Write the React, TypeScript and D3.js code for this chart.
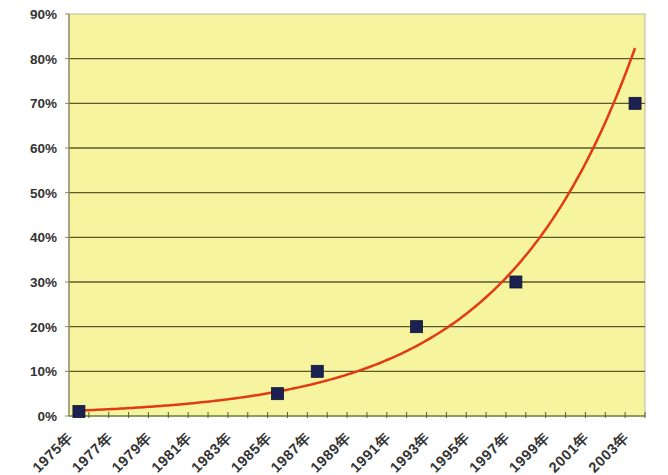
import React from "react";
import * as d3 from "d3";

const years: number[] = d3.range(1975, 2004);
const tickYears: number[] = years.filter((y) => (y - 1975) % 2 === 0);
const yTicks: number[] = [0, 0.1, 0.2, 0.3, 0.4, 0.5, 0.6, 0.7, 0.8, 0.9];
const pointYears: number[] = [1975, 1985, 1987, 1992, 1997, 2003];
const pointValues: number[] = [0.01, 0.05, 0.1, 0.2, 0.3, 0.7];

const W = 668;
const H = 475;
const left = 69;
const right = 645;
const top = 14;
const bottom = 416;

export default function App() {
  const x = d3.scaleBand<number>().domain(years).range([left, right]).padding(0);
  const cx = (yr: number) => (x(yr) as number) + x.bandwidth() / 2;
  const y = d3.scaleLinear().domain([0, 0.9]).range([bottom, top]);

  // exponential trendline (least squares on log values)
  const ts = pointYears.map((yr) => yr - 1975);
  const ls = pointValues.map((v) => Math.log(v));
  const mt = d3.mean(ts) as number;
  const ml = d3.mean(ls) as number;
  const sxy = d3.sum(ts.map((t, i) => (t - mt) * (ls[i] - ml)));
  const sxx = d3.sum(ts.map((t) => (t - mt) * (t - mt)));
  const b = sxy / sxx;
  const a = Math.exp(ml - b * mt);
  const first = years[0];
  const last = years[years.length - 1];
  const trend: [number, number][] = d3
    .range(0, 201)
    .map((i) => first + ((last - first) * i) / 200)
    .map((yr) => [yr, a * Math.exp(b * (yr - 1975))]);
  const xc = d3
    .scaleLinear()
    .domain([first, last])
    .range([cx(first), cx(last)]);
  const line = d3
    .line<[number, number]>()
    .x((d) => xc(d[0]))
    .y((d) => y(d[1]))
    .curve(d3.curveBasis);

  const font = "'Liberation Sans', Arial, sans-serif";
  const bw = x.bandwidth();

  return (
    <div style={{ position: "fixed", left: 0, top: 0 }}>
      <svg width={W} height={H} style={{ display: "block", background: "#fff" }}>
        <rect x={left} y={top} width={right - left} height={bottom - top} fill="#f7f4a0" stroke="#b8b8a0" strokeWidth={1} />
        {yTicks.filter((t) => t > 0 && t < 0.9).map((t) => (
          <line key={t} x1={left} x2={right} y1={y(t)} y2={y(t)} stroke="#5b5a2c" strokeWidth={1.3} />
        ))}
        {/* left axis */}
        <line x1={left} x2={left} y1={top} y2={bottom} stroke="#8a8a60" strokeWidth={1.3} />
        {yTicks.map((t) => (
          <line key={"lt" + t} x1={left - 4} x2={left} y1={y(t)} y2={y(t)} stroke="#8a8a60" strokeWidth={1} />
        ))}
        {/* bottom axis */}
        <line x1={left} x2={right} y1={bottom} y2={bottom} stroke="#6f8a3c" strokeWidth={1.5} />
        {years.map((yr) => (
          <line key={"bt" + yr} x1={(x(yr) as number) + bw} x2={(x(yr) as number) + bw} y1={bottom - 4} y2={bottom + 2} stroke="#5b5a2c" strokeWidth={1} />
        ))}
        {yTicks.map((t) => (
          <text key={"yl" + t} x={57} y={y(t)} dy="0.36em" textAnchor="end" fontFamily={font} fontWeight="bold" fontSize={13.5} fill="#333">
            {Math.round(t * 100) + "%"}
          </text>
        ))}
        {tickYears.map((yr) => (
          <g key={"xl" + yr} transform={`translate(${cx(yr) - 5},${bottom + 22})`}>
            <text
              transform="rotate(-45)"
              textAnchor="end"
              fontFamily={font}
              fontWeight="bold"
              fontSize={14.5}
              letterSpacing={0.6}
              fill="#333"
            >
              {yr + "年"}
            </text>
          </g>
        ))}
        <path d={line(trend) as string} fill="none" stroke="#e23a12" strokeWidth={2.5} />
        {pointYears.map((yr, i) => (
          <rect key={"p" + yr} x={cx(yr) - 6} y={y(pointValues[i]) - 6} width={12} height={12} fill="#1b2150" stroke="#10142e" strokeWidth={0.8} />
        ))}
      </svg>
    </div>
  );
}
